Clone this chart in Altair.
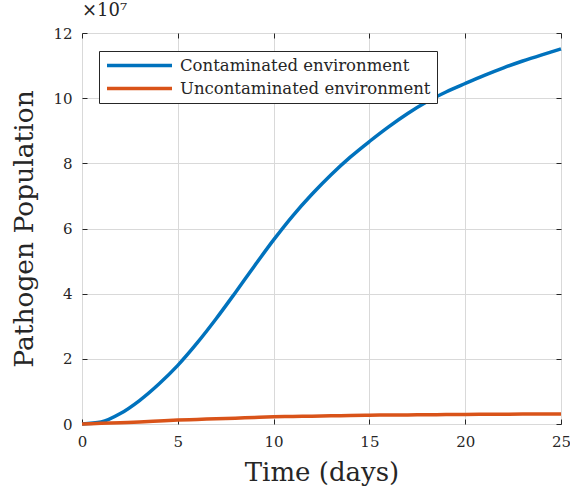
import altair as alt
import pandas as pd

days = list(range(0, 26))
contaminated = [0, 0.06, 0.32, 0.72, 1.22, 1.80, 2.48, 3.23, 4.03, 4.85, 5.65, 6.39,
                7.05, 7.65, 8.19, 8.67, 9.12, 9.53, 9.89, 10.19, 10.45, 10.70, 10.93,
                11.14, 11.33, 11.51]
uncontaminated = [0, 0.02, 0.04, 0.06, 0.09, 0.12, 0.14, 0.16, 0.18, 0.2, 0.22, 0.23,
                  0.24, 0.25, 0.26, 0.27, 0.275, 0.28, 0.285, 0.29, 0.295, 0.3, 0.3,
                  0.305, 0.31, 0.31]
series_names = ["Contaminated environment", "Uncontaminated environment"]
series_colors = ["#0072BD", "#D95319"]
x_ticks = [0, 5, 10, 15, 20, 25]
y_ticks = [0, 2, 4, 6, 8, 10, 12]

rows = []
for t, c, u in zip(days, contaminated, uncontaminated):
    rows.append({"t": t, "v": c, "s": series_names[0]})
    rows.append({"t": t, "v": u, "s": series_names[1]})
df = pd.DataFrame(rows)

FONT = "DejaVu Serif"
AX = "#262626"

xscale = alt.Scale(domain=[0, 25], nice=False)
yscale = alt.Scale(domain=[0, 12], nice=False)

base = alt.Chart(df)

lines = base.mark_line(strokeWidth=3.5, interpolate="monotone").encode(
    x=alt.X("t:Q", scale=xscale, title="Time (days)",
            axis=alt.Axis(values=x_ticks, grid=True, gridColor="#d9d9d9", gridWidth=1,
                          domain=False, offset=-5, tickSize=5, tickColor=AX,
                          labelPadding=10, labelFont=FONT, labelFontSize=15,
                          labelColor=AX, titleFont=FONT, titleFontSize=26,
                          titleFontWeight="normal", titleColor=AX, titlePadding=10,
                          labelFlush=False)),
    y=alt.Y("v:Q", scale=yscale, title="Pathogen Population",
            axis=alt.Axis(values=y_ticks, grid=True, gridColor="#d9d9d9", gridWidth=1,
                          domain=False, offset=-5, tickSize=5, tickColor=AX,
                          labelPadding=10, labelFont=FONT, labelFontSize=15,
                          labelColor=AX, titleFont=FONT, titleFontSize=26.5,
                          titleFontWeight="normal", titleColor=AX, titlePadding=14,
                          labelFlush=False)),
    color=alt.Color("s:N", scale=alt.Scale(domain=series_names, range=series_colors),
                    legend=alt.Legend(title=None, orient="none", legendX=17, legendY=18,
                                      strokeColor=AX, fillColor="white", padding=6,
                                      symbolType="M-1,0H9", symbolSize=169,
                                      symbolStrokeWidth=3.5, labelFont=FONT,
                                      labelFontSize=16.5, labelColor=AX, rowPadding=6,
                                      labelOffset=58, labelLimit=400)),
    order=alt.Order("s:N", sort="descending"),
)

frame_ticks = base.mark_point(opacity=0).encode(
    x=alt.X("t:Q", scale=xscale,
            axis=alt.Axis(orient="top", values=x_ticks, grid=False, domain=False,
                          labels=False, title=None, offset=-5, tickSize=5,
                          tickColor=AX)),
    y=alt.Y("v:Q", scale=yscale,
            axis=alt.Axis(orient="right", values=y_ticks, grid=False, domain=False,
                          labels=False, title=None, offset=-5, tickSize=5,
                          tickColor=AX)),
)

chart = alt.layer(lines, frame_ticks).resolve_axis(
    x="independent", y="independent"
).properties(
    width=479, height=391,
    title=alt.TitleParams("×10⁷", anchor="start", frame="group", font=FONT,
                          fontSize=18, fontWeight="normal", color=AX, offset=6),
    autosize=alt.AutoSizeParams(type="none"),
    padding={"left": 82, "top": 33, "right": 9, "bottom": 72},
).configure_view(stroke=AX, strokeWidth=1).configure(background="white")

chart.save("out.html", embed_options={"renderer": "svg", "actions": False})
